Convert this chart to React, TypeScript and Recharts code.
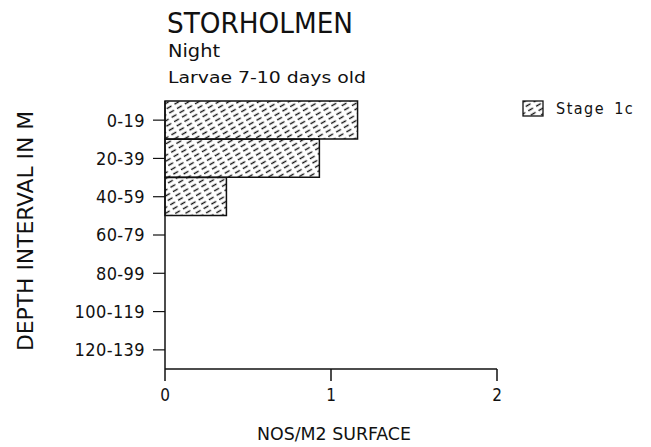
import React from "react";
import { Bar, BarChart, XAxis, YAxis } from "recharts";

const depthIntervals = ["0-19", "20-39", "40-59", "60-79", "80-99", "100-119", "120-139"];
const stage1c = [1.16, 0.93, 0.37, 0, 0, 0, 0];
const xTicks = [0, 1, 2];

const chartData = depthIntervals.map((depth, i) => ({ depth, stage1c: stage1c[i] }));

const FONT = "'DejaVu Sans Condensed', 'DejaVu Sans', sans-serif";
const INK = "#111";

const textStyle: React.CSSProperties = { fontFamily: FONT, fontStretch: "condensed" };

function HatchLegend() {
  return (
    <div
      style={{
        position: "absolute",
        left: 522,
        top: 99,
        display: "flex",
        alignItems: "center",
        ...textStyle,
      }}
    >
      <svg width={22} height={17} style={{ display: "block" }}>
        <rect x={1} y={1} width={20} height={15} fill="url(#hatch)" stroke={INK} strokeWidth={1.3} />
      </svg>
      <span style={{ marginLeft: 12, fontSize: 16, letterSpacing: 1.5, wordSpacing: 3, color: INK }}>
        Stage 1c
      </span>
    </div>
  );
}

export default function App() {
  return (
    <div style={{ position: "absolute", left: 0, top: 0, width: 651, height: 447, background: "#fff" }}>
      <BarChart
        width={651}
        height={447}
        data={chartData}
        layout="vertical"
        barCategoryGap={0}
        margin={{ top: 101, right: 154, left: 65, bottom: 0 }}
      >
        <defs>
          <pattern id="hatch" patternUnits="userSpaceOnUse" width={9} height={5} patternTransform="rotate(-30)">
            <line x1={0} y1={2.5} x2={5.5} y2={2.5} stroke={INK} strokeWidth={1.4} />
          </pattern>
        </defs>
        <XAxis
          type="number"
          domain={[0, 2]}
          ticks={xTicks}
          height={78}
          tickSize={12}
          tickMargin={8}
          axisLine={{ stroke: INK, strokeWidth: 1.5 }}
          tickLine={{ stroke: INK, strokeWidth: 1.5 }}
          tick={{ fontSize: 17, fill: INK, fontFamily: FONT }}
        />
        <YAxis
          type="category"
          dataKey="depth"
          width={100}
          tickSize={12}
          tickMargin={8}
          axisLine={{ stroke: INK, strokeWidth: 1.5 }}
          tickLine={{ stroke: INK, strokeWidth: 1.2 }}
          tick={{ fontSize: 18, fill: INK, fontFamily: FONT, letterSpacing: 0.4 }}
        />
        <Bar
          dataKey="stage1c"
          name="Stage 1c"
          fill="url(#hatch)"
          stroke={INK}
          strokeWidth={1.5}
          isAnimationActive={false}
        />
      </BarChart>
      <HatchLegend />
      <svg
        width={651}
        height={447}
        style={{ position: "absolute", left: 0, top: 0, pointerEvents: "none", ...textStyle }}
      >
        <g fill={INK}>
          <text x={167} y={33} fontSize={29} textLength={186} lengthAdjust="spacingAndGlyphs">
            STORHOLMEN
          </text>
          <text x={168} y={57} fontSize={17} textLength={52} lengthAdjust="spacingAndGlyphs">
            Night
          </text>
          <text x={168} y={83} fontSize={15} textLength={198} lengthAdjust="spacingAndGlyphs">
            Larvae 7-10 days old
          </text>
          <text x={257} y={440} fontSize={18} textLength={154} lengthAdjust="spacingAndGlyphs">
            NOS/M2 SURFACE
          </text>
          <text
            x={0}
            y={0}
            fontSize={21}
            textLength={240}
            lengthAdjust="spacingAndGlyphs"
            transform="translate(33, 351) rotate(-90)"
          >
            DEPTH INTERVAL IN M
          </text>
        </g>
      </svg>
    </div>
  );
}
